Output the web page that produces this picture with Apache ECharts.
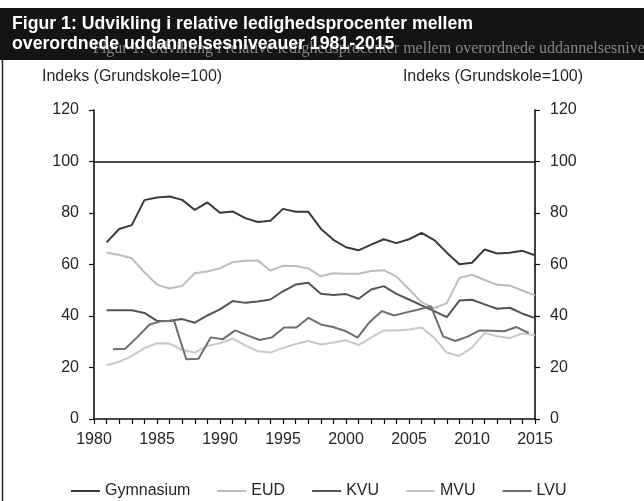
<!DOCTYPE html>
<html>
<head>
<meta charset="utf-8">
<script src="https://cdn.jsdelivr.net/npm/echarts@6/dist/echarts.min.js"></script>
<style>
  html, body { margin: 0; padding: 0; background: #fff; }
  #chart { width: 644px; height: 501px; }
</style>
</head>
<body>
<div id="chart"></div>
<script>
// years 1981-2015
var years = [];
for (var y = 1981; y <= 2015; y++) years.push(y);

var gymnasium = [68.6, 73.8, 75.3, 85.0, 86.0, 86.4, 85.1, 81.2, 84.1, 80.1,
  80.6, 78.0, 76.5, 77.0, 81.6, 80.5, 80.5, 73.9, 69.6, 66.7,
  65.5, 67.7, 69.8, 68.3, 69.8, 72.3, 69.5, 64.6, 60.1, 60.7,
  65.8, 64.3, 64.6, 65.3, 63.6];
var eud = [64.7, 63.7, 62.4, 57.0, 52.2, 50.7, 51.7, 56.6, 57.3, 58.5,
  60.9, 61.5, 61.6, 57.6, 59.5, 59.4, 58.5, 55.4, 56.6, 56.4,
  56.4, 57.5, 57.8, 55.3, 50.4, 45.4, 43.0, 45.0, 54.8, 56.0,
  54.0, 52.1, 51.8, 49.9, 48.0];
var kvu = [42.2, 42.2, 42.2, 41.2, 38.1, 38.2, 38.8, 37.4, 40.2, 42.6,
  45.8, 45.1, 45.6, 46.4, 49.6, 52.2, 52.9, 48.6, 48.2, 48.5,
  46.7, 50.3, 51.6, 48.6, 46.4, 44.1, 41.9, 39.6, 46.0, 46.3,
  44.5, 42.8, 43.2, 40.9, 39.2];
var mvu = [20.9, 22.2, 24.5, 27.5, 29.4, 29.3, 26.8, 25.8, 28.4, 29.4,
  31.2, 28.6, 26.3, 25.8, 27.6, 29.1, 30.3, 28.9, 29.7, 30.6,
  28.7, 31.6, 34.4, 34.4, 34.8, 35.5, 31.5, 25.8, 24.5, 27.7,
  33.4, 32.1, 31.5, 33.2, 32.5];
var lvu = [27.1, 27.3, 31.8, 36.7, 38.0, 38.2, 23.2, 23.4, 31.7, 31.0,
  34.4, 32.5, 30.7, 31.7, 35.5, 35.5, 39.3, 36.7, 35.7, 34.2,
  31.6, 37.7, 41.9, 40.2, 41.4, 42.5, 43.8, 32.1, 30.3, 32.0,
  34.4, 34.3, 34.1, 35.7, 33.4];

var seriesNames = ['Gymnasium', 'EUD', 'KVU', 'MVU', 'LVU'];
var seriesColors = ['#3a3a3a', '#bdbdbd', '#555555', '#c9c9c9', '#6f6f6f'];
var yTicks = [0, 20, 40, 60, 80, 100, 120];
var refLine = 100;

// in the original the LVU line is stretched between 1981.5 and 2014.5
var lvuFrom = 1981.5, lvuTo = 2014.5;
var lvuScale = (years[years.length - 1] - years[0]) / (lvuTo - lvuFrom);
var lvuMin = years[0] + (1980 - lvuFrom) * lvuScale;
var lvuMax = years[0] + (2015 - lvuFrom) * lvuScale;

function pairs(vals) {
  return vals.map(function (v, i) { return [years[i], v]; });
}

var font = 'Liberation Sans, Arial, sans-serif';
var chart = echarts.init(document.getElementById('chart'));

var allData = [gymnasium, eud, kvu, mvu, lvu];
var series = seriesNames.map(function (name, i) {
  return {
    name: name,
    type: 'line',
    data: pairs(allData[i]),
    symbol: 'none',
    xAxisIndex: name === 'LVU' ? 1 : 0,
    lineStyle: { width: 2, color: seriesColors[i] },
    itemStyle: { color: seriesColors[i] },
    z: 3
  };
});
series[0].markLine = {
  silent: true,
  symbol: 'none',
  label: { show: false },
  lineStyle: { color: '#111', width: 1.6, type: 'solid' },
  data: [{ yAxis: refLine }]
};

var option = {
  animation: false,
  backgroundColor: '#fff',
  title: {
    text: 'Figur 1: Udvikling i relative ledighedsprocenter mellem\noverordnede uddannelsesniveauer 1981-2015',
    left: 7,
    top: 9,
    textStyle: { color: '#fff', fontFamily: font, fontWeight: 'bold', fontSize: 17.7, lineHeight: 20 }
  },
  graphic: [
    { type: 'rect', left: 0, top: 8, z: -1, shape: { width: 644, height: 52 }, style: { fill: '#141414' } },
    { type: 'text', left: 93, top: 41, z: -1, style: {
      text: 'Figur 1: Udvikling i relative ledighedsprocenter mellem overordnede uddannelsesniveauer',
      fill: '#858585', font: '16px "Liberation Serif", serif' } },
    { type: 'line', shape: { x1: 2.5, y1: 60, x2: 2.5, y2: 501 }, style: { stroke: '#222', lineWidth: 1.5 } },
    { type: 'text', left: 42, top: 69, style: { text: 'Indeks (Grundskole=100)', fill: '#262626', font: '16px ' + font } },
    { type: 'text', right: 61, top: 69, style: { text: 'Indeks (Grundskole=100)', fill: '#262626', font: '16px ' + font } }
  ],
  legend: {
    data: seriesNames,
    icon: 'rect',
    left: 66,
    top: 478,
    itemWidth: 29,
    itemHeight: 2,
    itemGap: 27,
    textStyle: { color: '#262626', fontFamily: font, fontSize: 16 }
  },
  grid: { left: 94, right: 109, top: 110, bottom: 82, containLabel: false },
  xAxis: [{
    type: 'value',
    min: 1980,
    max: 2015,
    interval: 1,
    splitLine: { show: false },
    axisLine: { lineStyle: { color: '#111', width: 1.6 } },
    axisTick: { length: 5, lineStyle: { color: '#111', width: 1.2 } },
    axisLabel: {
      margin: 13,
      color: '#262626',
      fontFamily: font,
      fontSize: 16,
      formatter: function (v) { return v % 5 === 0 ? String(v) : ''; }
    }
  }, {
    type: 'value',
    min: lvuMin,
    max: lvuMax,
    show: false
  }],
  yAxis: [0, 1].map(function (i) {
    return {
      type: 'value',
      position: i === 0 ? 'left' : 'right',
      min: yTicks[0],
      max: yTicks[yTicks.length - 1],
      interval: 20,
      splitLine: { show: false },
      axisLine: { show: true, lineStyle: { color: '#111', width: 1.6 } },
      axisTick: { show: true, length: 5, lineStyle: { color: '#111', width: 1.2 } },
      axisLabel: { margin: 15, color: '#262626', fontFamily: font, fontSize: 16 }
    };
  }),
  series: series
};
chart.setOption(option);
</script>
</body>
</html>
